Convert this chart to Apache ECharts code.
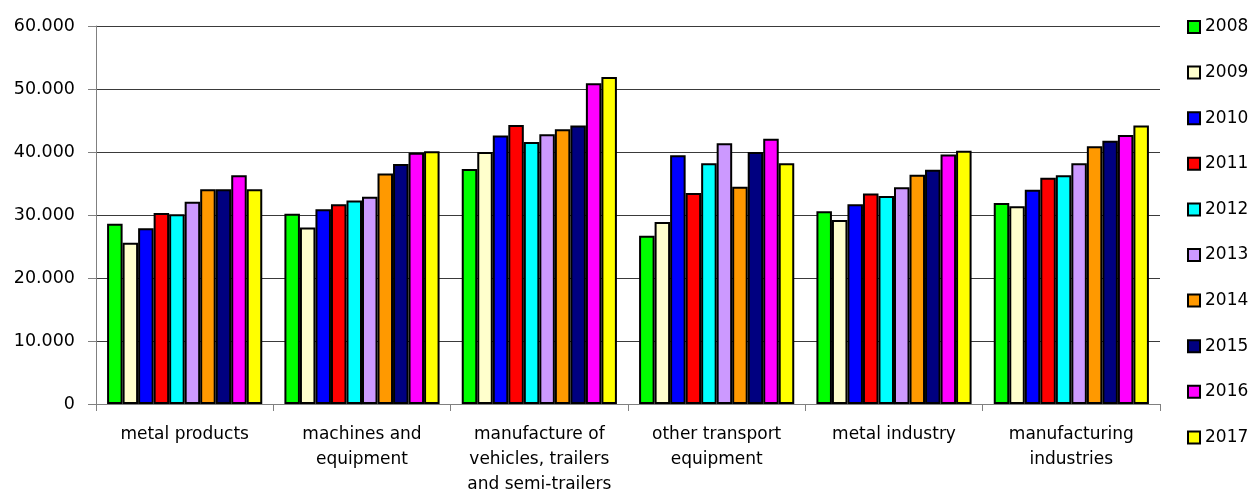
<!DOCTYPE html>
<html>
<head>
<meta charset="utf-8">
<script src="https://cdn.jsdelivr.net/npm/echarts@6/dist/echarts.min.js"></script>
<style>
  html, body { margin: 0; padding: 0; background: #fff; }
  #chart { width: 1254px; height: 491px; }
</style>
</head>
<body>
<div id="chart"></div>
<script>
// Industry groups along the x axis
const categories = [
  'metal products',
  'machines and\nequipment',
  'manufacture of\nvehicles, trailers\nand semi-trailers',
  'other transport\nequipment',
  'metal industry',
  'manufacturing\nindustries'
];

const years = ['2008', '2009', '2010', '2011', '2012', '2013', '2014', '2015', '2016', '2017'];

// Values per year, one entry per industry group
const v2008 = [28600, 30200, 37300, 26700, 30600, 31900];
const v2009 = [25600, 28000, 40000, 28900, 29200, 31400];
const v2010 = [27900, 30900, 42600, 39500, 31700, 34000];
const v2011 = [30300, 31700, 44300, 33500, 33400, 35900];
const v2012 = [30100, 32300, 41600, 38200, 33000, 36300];
const v2013 = [32100, 32900, 42800, 41400, 34400, 38200];
const v2014 = [34100, 36600, 43600, 34500, 36400, 40900];
const v2015 = [34100, 38100, 44200, 40000, 37200, 41800];
const v2016 = [36300, 39900, 50900, 42100, 39600, 42700];
const v2017 = [34100, 40100, 51900, 38200, 40200, 44200];
const seriesValues = [v2008, v2009, v2010, v2011, v2012, v2013, v2014, v2015, v2016, v2017];

const yTicks = { min: 0, max: 60000, interval: 10000 };

const palette = ['#00FF00', '#FFFFCC', '#0000FF', '#FF0000', '#00FFFF',
                 '#CC99FF', '#FF9900', '#000080', '#FF00FF', '#FFFF00'];

const FONT = 'DejaVu Sans';

function thousands(v) {
  if (v === 0) return '0';
  const s = String(Math.round(v));
  return s.replace(/\B(?=(\d{3})+(?!\d))/g, '.');
}

const chart = echarts.init(document.getElementById('chart'), null, { renderer: 'canvas' });

chart.setOption({
  animation: false,
  backgroundColor: '#ffffff',
  color: palette,
  textStyle: { fontFamily: FONT },
  grid: { left: 96, right: 94, top: 26, bottom: 87, containLabel: false, outerBoundsMode: 'none' },
  legend: {
    orient: 'vertical',
    left: 1187,
    top: 17,
    padding: 0,
    itemWidth: 12,
    itemHeight: 12,
    itemGap: 25.6,
    data: years,
    textStyle: { fontFamily: FONT, fontSize: 17, color: '#000', lineHeight: 20 },
    icon: 'rect',
    itemStyle: { borderColor: '#000', borderWidth: 2 }
  },
  xAxis: {
    type: 'category',
    data: categories,
    axisLine: { lineStyle: { color: '#808080', width: 1 } },
    axisTick: { show: true, length: 7, lineStyle: { color: '#808080' } },
    axisLabel: { fontFamily: FONT, fontSize: 17, color: '#000', lineHeight: 25, margin: 18, interval: 0, align: 'center' },
    splitLine: { show: false }
  },
  yAxis: {
    type: 'value',
    min: yTicks.min,
    max: yTicks.max,
    interval: yTicks.interval,
    axisLine: { show: true, lineStyle: { color: '#808080', width: 1 } },
    axisTick: { show: true, length: 8, lineStyle: { color: '#808080' } },
    axisLabel: { fontFamily: FONT, fontSize: 17.5, color: '#000', margin: 21, formatter: thousands },
    splitLine: { show: true, lineStyle: { color: '#3a3a3a', width: 1 } }
  },
  series: years.map((y, i) => ({
    name: y,
    type: 'bar',
    data: seriesValues[i],
    barGap: '0%',
    barCategoryGap: '12.5%',
    itemStyle: { color: palette[i], borderColor: '#000', borderWidth: 2 }
  }))
});
</script>
</body>
</html>
